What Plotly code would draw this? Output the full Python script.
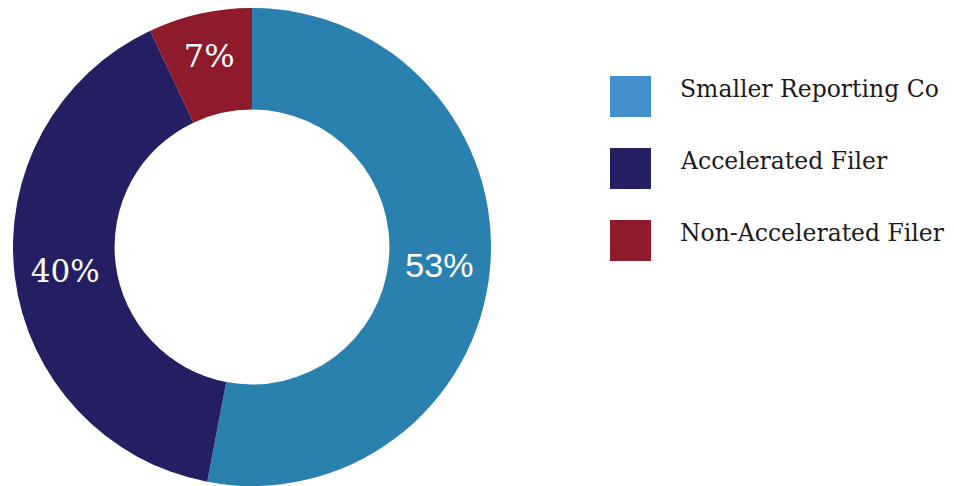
import plotly.graph_objects as go

# Share of filers by category
categories = ["Smaller Reporting Co", "Accelerated Filer", "Non-Accelerated Filer"]
shares = [53, 40, 7]
slice_colors = ["#2a81b0", "#241f62", "#8e1a2b"]
legend_colors = ["#428fcc", "#241f62", "#8e1a2b"]
label_fonts = ["Liberation Sans", "DejaVu Serif", "DejaVu Serif"]

W, H = 954, 486

fig = go.Figure(
    go.Pie(
        labels=categories,
        values=shares,
        hole=0.575,
        sort=False,
        direction="clockwise",
        rotation=0,
        marker=dict(colors=slice_colors, line=dict(width=0)),
        texttemplate="%{percent:.0%}",
        textinfo="percent",
        textposition="inside",
        insidetextorientation="horizontal",
        insidetextfont=dict(color="white", size=[34, 31, 32], family=label_fonts),
        showlegend=False,
        domain=dict(x=[12 / W, 492 / W], y=[0, 478 / H]),
        hoverinfo="label+percent",
    )
)

# Legend: square swatches with category names
sw_x0, sw_size, row_gap, first_top = 610, 41, 72, 76
shapes, annotations = [], []
for i, (name, col) in enumerate(zip(categories, legend_colors)):
    top = first_top + i * row_gap
    shapes.append(dict(
        type="rect", xref="paper", yref="paper",
        x0=sw_x0 / W, x1=(sw_x0 + sw_size) / W,
        y0=1 - (top + sw_size) / H, y1=1 - top / H,
        fillcolor=col, line=dict(width=0),
    ))
    annotations.append(dict(
        xref="paper", yref="paper", x=678 / W, y=1 - (top + 13) / H,
        xanchor="left", yanchor="middle", text=name, showarrow=False,
        font=dict(family="DejaVu Serif", size=23.5, color="#1e1a1b"),
    ))

fig.update_layout(
    width=W, height=H,
    margin=dict(l=0, r=0, t=0, b=0),
    paper_bgcolor="white", plot_bgcolor="white",
    shapes=shapes, annotations=annotations,
)

fig.write_html("out.html")
